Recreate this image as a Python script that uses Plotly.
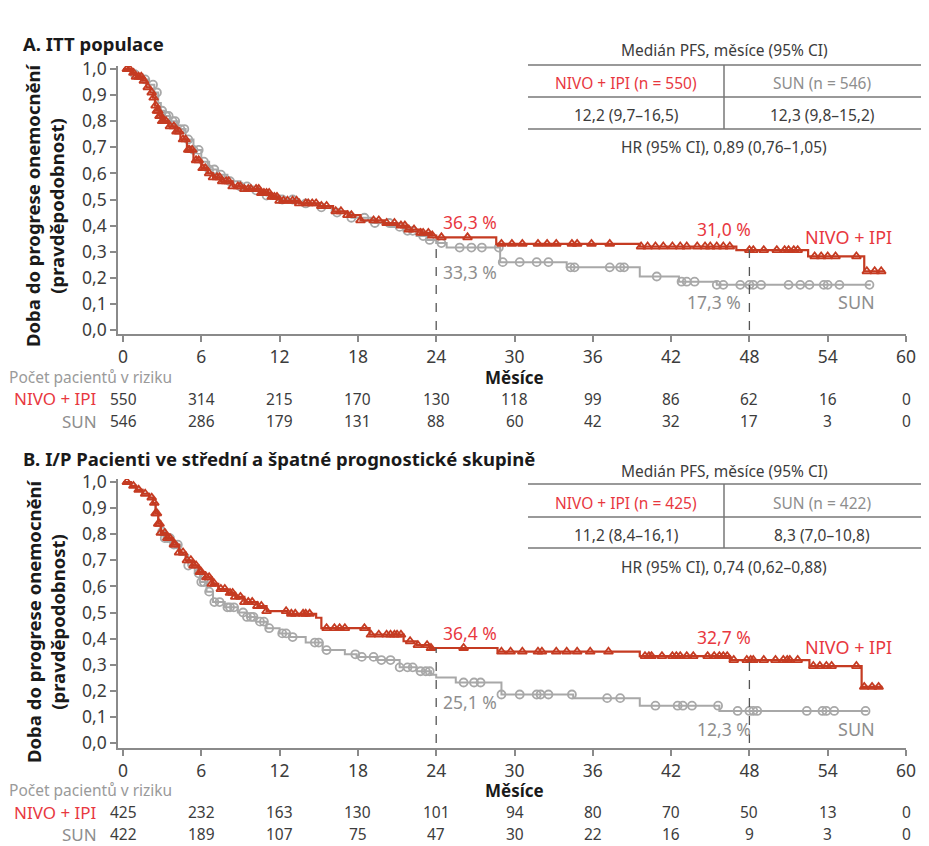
import numpy as np
import plotly.graph_objects as go

W, H = 929, 846
FONT = "Noto Sans"
RED_LINE = "#c53b22"
RED_TEXT = "#e8383f"
GRAY_LINE = "#a8a8a8"
GRAY_TEXT = "#8e8e8e"
DARK = "#3c3c3c"
AXIS = "#8a8a8a"

# ---------------- data ----------------
x_ticks = [0, 6, 12, 18, 24, 30, 36, 42, 48, 54, 60]
y_ticks = [0.0, 0.1, 0.2, 0.3, 0.4, 0.5, 0.6, 0.7, 0.8, 0.9, 1.0]
y_tick_labels = ["0,0", "0,1", "0,2", "0,3", "0,4", "0,5", "0,6", "0,7", "0,8", "0,9", "1,0"]

# Panel A: ITT
nivo_a_t = [0, 0.6, 1.0, 1.5, 1.8, 2.1, 2.3, 2.45, 2.6, 2.8, 3.0, 3.5, 4.0, 4.4, 4.9, 5.4, 6.0, 6.5, 6.9,
            7.5, 8.4, 9.3, 10.5, 11.3, 12.0, 13.5, 15.0, 16.1, 17.2, 18.2, 20.0, 21.0, 21.7, 22.8, 23.5,
            24.0, 28.6, 39.6, 47.0, 52.5, 56.8, 58.4]
nivo_a_s = [1.0, 0.985, 0.97, 0.955, 0.93, 0.91, 0.89, 0.86, 0.84, 0.82, 0.80, 0.78, 0.76, 0.73, 0.69, 0.65,
            0.62, 0.60, 0.585, 0.57, 0.55, 0.54, 0.525, 0.51, 0.495, 0.485, 0.475, 0.455, 0.44, 0.42, 0.41,
            0.40, 0.385, 0.372, 0.362, 0.355, 0.33, 0.32, 0.306, 0.282, 0.225, 0.225]
nivo_a_cens = [0.3, 0.5, 0.8, 1.0, 1.2, 1.4, 1.6, 1.9, 2.2, 2.35, 2.5, 2.6, 2.7, 2.8, 2.9, 3.0, 3.1, 3.3,
               3.6, 3.9, 4.1, 4.3, 4.6, 4.8, 5.0, 5.1, 5.3, 5.6, 5.8, 6.1, 6.3, 6.6, 6.9, 7.2, 7.4, 7.6,
               7.9, 8.1, 8.4, 8.8, 9.0, 9.3, 9.6, 9.8, 10.2, 10.4, 10.6, 10.8, 11.0, 11.2, 11.4, 11.6,
               11.8, 12.0, 12.3, 12.6, 13.0, 13.3, 13.5, 14.0, 14.2, 14.5, 14.8, 15.2, 15.6, 16.3, 16.7,
               17.2, 17.5, 18.2, 19.2, 19.6, 20.2, 20.8, 21.3, 21.6, 21.9, 22.3, 22.8, 23.0, 23.4, 23.7,
               24.4, 26.4, 29.0, 29.8, 30.6, 31.8, 32.5, 33.2, 34.4, 34.8, 35.9, 37.3, 39.7, 40.2, 40.8,
               41.4, 42.1, 42.7, 43.2, 44.0, 44.6, 45.0, 45.5, 46.0, 46.5, 48.0, 48.3, 49.1, 50.1, 50.7,
               51.0, 51.4, 51.7, 53.0, 53.5, 54.0, 54.6, 56.2, 57.0, 57.6, 58.1]
sun_a_t = [0, 0.8, 1.5, 2.0, 2.4, 2.7, 2.9, 3.2, 3.6, 4.2, 4.8, 5.4, 6.0, 6.6, 7.2, 8.0, 9.0, 10.0, 11.0,
           12.0, 13.5, 15.0, 16.0, 17.5, 19.0, 20.5, 21.5, 22.5, 23.3, 24.0, 24.8, 28.9, 34.0, 39.6, 42.6,
           45.5, 57.3]
sun_a_s = [1.0, 0.98, 0.96, 0.94, 0.91, 0.87, 0.84, 0.82, 0.80, 0.77, 0.73, 0.69, 0.645, 0.615, 0.595, 0.57,
           0.55, 0.535, 0.515, 0.50, 0.485, 0.47, 0.45, 0.43, 0.41, 0.395, 0.38, 0.36, 0.345, 0.333, 0.316,
           0.26, 0.24, 0.205, 0.185, 0.173, 0.173]
sun_a_cens = [0.9, 1.7, 2.3, 2.6, 3.0, 3.3, 3.5, 3.8, 4.0, 4.4, 4.7, 5.0, 5.4, 5.8, 6.2, 6.6, 7.0, 7.5, 8.2,
              9.0, 9.5, 10.2, 11.0, 12.2, 13.0, 14.0, 15.2, 16.4, 17.5, 18.5, 19.3, 20.4, 21.2, 21.8, 22.2,
              23.0, 23.5, 24.4, 25.8, 26.7, 27.5, 28.8, 29.1, 30.4, 31.7, 32.6, 34.3, 34.6, 37.3, 38.1,
              38.4, 40.9, 42.8, 43.2, 43.8, 45.5, 46.0, 47.3, 48.0, 48.3, 48.9, 51.0, 51.9, 52.6, 53.7,
              54.0, 54.9, 57.2]

# Panel B: I/P
nivo_b_t = [0, 0.6, 1.0, 1.5, 2.0, 2.3, 2.5, 2.7, 2.9, 3.3, 3.8, 4.3, 4.8, 5.3, 5.8, 6.3, 6.8, 7.3, 8.0,
            8.6, 9.3, 10.3, 11.0, 12.6, 14.8, 15.2, 18.9, 21.5, 22.5, 23.5, 28.7, 39.6, 46.5, 52.6, 56.6, 58.2]
nivo_b_s = [1.0, 0.985, 0.97, 0.955, 0.94, 0.92, 0.88, 0.84, 0.805, 0.785, 0.76, 0.73, 0.70, 0.68, 0.655,
            0.635, 0.61, 0.59, 0.575, 0.56, 0.54, 0.525, 0.505, 0.495, 0.48, 0.44, 0.415, 0.39, 0.375, 0.364,
            0.35, 0.333, 0.318, 0.295, 0.215, 0.215]
nivo_b_cens = [0.3, 0.8, 1.2, 1.7, 2.2, 2.4, 2.5, 2.6, 2.7, 2.8, 2.9, 3.2, 3.4, 3.6, 3.9, 4.0, 4.3, 4.6,
               4.9, 5.2, 5.4, 5.6, 5.9, 6.0, 6.4, 6.6, 6.8, 7.0, 7.5, 7.8, 8.2, 8.4, 8.6, 9.0, 9.3, 9.6,
               9.9, 10.3, 10.6, 11.0, 12.5, 12.9, 13.2, 13.8, 14.0, 14.3, 15.6, 16.2, 16.6, 17.0, 18.5,
               19.0, 19.6, 20.2, 20.5, 20.8, 21.0, 21.3, 22.0, 22.6, 23.3, 23.6, 26.1, 29.0, 29.7, 30.6,
               31.8, 32.1, 33.2, 34.0, 34.8, 35.8, 37.2, 40.0, 40.3, 40.5, 41.3, 42.1, 42.4, 42.7, 43.2,
               43.7, 44.8, 45.3, 45.7, 46.0, 46.3, 46.8, 47.8, 48.1, 48.3, 49.1, 50.0, 50.6, 50.9, 51.1,
               51.7, 52.9, 53.4, 53.9, 54.3, 56.2, 56.8, 57.4, 57.9]
sun_b_t = [0, 0.6, 1.0, 1.5, 2.0, 2.3, 2.5, 2.7, 2.9, 3.2, 3.8, 4.4, 5.0, 5.5, 5.9, 6.4, 6.9, 7.8, 8.8, 9.5,
           10.2, 11.0, 12.0, 12.8, 14.0, 15.3, 17.0, 17.9, 19.4, 21.2, 22.5, 23.6, 24.0, 25.5, 29.0, 34.5,
           39.6, 45.7, 57.1]
sun_b_s = [1.0, 0.985, 0.97, 0.955, 0.94, 0.92, 0.89, 0.85, 0.81, 0.785, 0.76, 0.72, 0.68, 0.65, 0.617,
           0.58, 0.54, 0.52, 0.50, 0.483, 0.465, 0.44, 0.42, 0.406, 0.385, 0.356, 0.34, 0.33, 0.318, 0.29,
           0.275, 0.262, 0.251, 0.232, 0.186, 0.172, 0.143, 0.123, 0.123]
sun_b_cens = [3.0, 3.2, 3.4, 3.6, 3.9, 4.2, 5.0, 5.8, 6.0, 6.2, 6.6, 7.0, 7.4, 8.0, 8.2, 8.5, 9.2, 9.5, 9.8,
              10.0, 10.5, 10.8, 11.2, 12.2, 12.5, 13.0, 14.7, 15.0, 15.6, 17.8, 18.3, 19.2, 19.8, 20.5,
              21.2, 21.8, 22.2, 22.8, 23.2, 23.5, 26.1, 26.9, 27.4, 29.0, 30.4, 31.7, 32.0, 32.6, 34.4,
              37.1, 38.1, 40.8, 42.5, 42.9, 43.6, 45.6, 47.1, 48.0, 48.3, 48.6, 52.4, 53.6, 53.9, 54.5,
              56.9]

# Risk tables
risk_nivo_a = [550, 314, 215, 170, 130, 118, 99, 86, 62, 16, 0]
risk_sun_a = [546, 286, 179, 131, 88, 60, 42, 32, 17, 3, 0]
risk_nivo_b = [425, 232, 163, 130, 101, 94, 80, 70, 50, 13, 0]
risk_sun_b = [422, 189, 107, 75, 47, 30, 22, 16, 9, 3, 0]

# Landmarks
landmark_t = [24, 48]
pct_nivo_a = ["36,3 %", "31,0 %"]
pct_sun_a = ["33,3 %", "17,3 %"]
pct_nivo_b = ["36,4 %", "32,7 %"]
pct_sun_b = ["25,1 %", "12,3 %"]

# Median tables
median_a = ["NIVO + IPI (n = 550)", "SUN (n = 546)", "12,2 (9,7–16,5)", "12,3 (9,8–15,2)", "HR (95% CI), 0,89 (0,76–1,05)"]
median_b = ["NIVO + IPI (n = 425)", "SUN (n = 422)", "11,2 (8,4–16,1)", "8,3 (7,0–10,8)", "HR (95% CI), 0,74 (0,62–0,88)"]


def step_at(t_arr, s_arr, t):
    idx = np.searchsorted(np.asarray(t_arr), t, side="right") - 1
    idx = np.clip(idx, 0, len(s_arr) - 1)
    return np.asarray(s_arr)[idx]


def px(x):
    return x / W


def py(y):
    return 1 - y / H


fig = go.Figure()

panels = [
    dict(xa="x", ya="y", nt=nivo_a_t, ns=nivo_a_s, nc=nivo_a_cens, st=sun_a_t, ss=sun_a_s, sc=sun_a_cens),
    dict(xa="x2", ya="y2", nt=nivo_b_t, ns=nivo_b_s, nc=nivo_b_cens, st=sun_b_t, ss=sun_b_s, sc=sun_b_cens),
]
for p in panels:
    fig.add_trace(go.Scatter(x=p["st"], y=p["ss"], mode="lines", line=dict(color=GRAY_LINE, width=2, shape="hv"),
                             xaxis=p["xa"], yaxis=p["ya"], showlegend=False, hoverinfo="skip"))
    fig.add_trace(go.Scatter(x=p["sc"], y=step_at(p["st"], p["ss"], p["sc"]), mode="markers",
                             marker=dict(symbol="circle-open", size=8, color=GRAY_LINE, line=dict(width=1.8)),
                             xaxis=p["xa"], yaxis=p["ya"], showlegend=False, hoverinfo="skip"))
    fig.add_trace(go.Scatter(x=p["nt"], y=p["ns"], mode="lines", line=dict(color=RED_LINE, width=2.2, shape="hv"),
                             xaxis=p["xa"], yaxis=p["ya"], showlegend=False, hoverinfo="skip"))
    fig.add_trace(go.Scatter(x=p["nc"], y=step_at(p["nt"], p["ns"], p["nc"]), mode="markers",
                             marker=dict(symbol="triangle-up-open", size=8, color=RED_LINE, line=dict(width=1.8)),
                             xaxis=p["xa"], yaxis=p["ya"], showlegend=False, hoverinfo="skip"))

# dashed landmark lines
dash_tops = [
    ("x", "y", step_at(sun_a_t, sun_a_s, 24), step_at(nivo_a_t, nivo_a_s, 48)),
    ("x2", "y2", step_at(nivo_b_t, nivo_b_s, 24), step_at(nivo_b_t, nivo_b_s, 48)),
]
shapes = []
for xa, ya, top24, top48 in dash_tops:
    for t, top in zip(landmark_t, [top24, top48]):
        shapes.append(dict(type="line", xref=xa, yref=ya, x0=t, x1=t, y0=0, y1=float(top),
                           line=dict(color="#555555", width=1.3, dash="dash")))

axis_common = dict(showline=True, linecolor=AXIS, linewidth=1.5, ticks="outside", ticklen=6, tickwidth=1.5,
                   tickcolor=AXIS, showgrid=False, zeroline=False, automargin=False,
                   tickfont=dict(family=FONT, size=17.5, color=DARK))
xdom = [px(118), px(906)]
fig.update_layout(
    width=W, height=H, autosize=False, margin=dict(l=0, r=0, t=0, b=0),
    paper_bgcolor="white", plot_bgcolor="white",
    xaxis=dict(domain=xdom, range=[-0.383, 60], anchor="y", tickvals=x_ticks, **axis_common),
    yaxis=dict(domain=[py(334), py(66)], range=[-0.0153, 1.0115], anchor="x", tickvals=y_ticks,
               ticktext=y_tick_labels, **axis_common),
    xaxis2=dict(domain=xdom, range=[-0.383, 60], anchor="y2", tickvals=x_ticks, **axis_common),
    yaxis2=dict(domain=[py(748), py(479)], range=[-0.019, 1.0115], anchor="x2", tickvals=y_ticks,
                ticktext=y_tick_labels, **axis_common),
)

ann = []


def text(x, y, s, size=16, color=DARK, xanchor="center", bold=False, xref="paper", yref="paper", angle=0):
    ann.append(dict(x=x, y=y, xref=xref, yref=yref, text=("<b>%s</b>" % s) if bold else s, showarrow=False,
                    xanchor=xanchor, yanchor="middle", textangle=angle,
                    font=dict(family=FONT, size=size, color=color)))


# titles
text(px(21), py(44), "A. ITT populace", size=18.5, color="#1a1a1a", xanchor="left", bold=True)
text(px(21), py(458), "B. I/P Pacienti ve střední a špatné prognostické skupině", size=18.5, color="#1a1a1a",
     xanchor="left", bold=True)

# y titles
for yc in [205, 621]:
    text(px(45), py(yc), "Doba do progrese onemocnění<br>(pravděpodobnost)", size=18.5, color="#1a1a1a",
         bold=True, angle=-90)

# median tables
for tab, (yh, yl1, yr1, yl2, yr2, yl3, yhr) in [
        (median_a, (50, 65, 83, 97, 115, 129, 147)),
        (median_b, (471, 484, 503, 517, 535, 548, 567))]:
    text(px(724), py(yh), "Medián PFS, měsíce (95% CI)", size=15.5, color=DARK)
    text(px(626), py(yr1), tab[0], size=15.5, color=RED_TEXT)
    text(px(822), py(yr1), tab[1], size=15.5, color=GRAY_TEXT)
    text(px(626), py(yr2), tab[2], size=15.5, color=DARK)
    text(px(822), py(yr2), tab[3], size=15.5, color=DARK)
    text(px(724), py(yhr), tab[4], size=15.5, color=DARK)
    for yy in (yl1, yl2, yl3):
        shapes.append(dict(type="line", xref="paper", yref="paper", x0=px(528), x1=px(921), y0=py(yy), y1=py(yy),
                           line=dict(color="#777777", width=1.5)))
    shapes.append(dict(type="line", xref="paper", yref="paper", x0=px(724), x1=px(724), y0=py(yl1), y1=py(yl3),
                       line=dict(color="#777777", width=1.5)))

# curve labels
for xa, ya, pn, ps, pos in [
        ("x", "y", pct_nivo_a, pct_sun_a, dict(n24=0.414, s24=0.222, n48=0.387, s48=0.107, nl=0.356, sl=0.107)),
        ("x2", "y2", pct_nivo_b, pct_sun_b, dict(n24=0.421, s24=0.157, n48=0.406, s48=0.054, nl=0.368, sl=0.054))]:
    text(24.35, pos["n24"], pn[0], size=17.5, color=RED_TEXT, xanchor="left", xref=xa, yref=ya)
    text(24.35, pos["s24"], ps[0], size=17.5, color=GRAY_TEXT, xanchor="left", xref=xa, yref=ya)
    text(48.3, pos["n48"], pn[1], size=17.5, color=RED_TEXT, xanchor="right", xref=xa, yref=ya)
    text(48.3 if xa == "x2" else 47.5, pos["s48"], ps[1], size=17.5, color=GRAY_TEXT, xanchor="right",
         xref=xa, yref=ya)
    text(55.6, pos["nl"], "NIVO + IPI", size=18, color=RED_TEXT, xref=xa, yref=ya)
    text(56.2, pos["sl"], "SUN", size=18, color=GRAY_TEXT, xref=xa, yref=ya)

# risk tables
for xa, rn, rs, (yp, yn, ysn) in [("x", risk_nivo_a, risk_sun_a, (377, 399, 421)),
                                  ("x2", risk_nivo_b, risk_sun_b, (790, 812, 834))]:
    text(px(7), py(yp), "Počet pacientů v riziku", size=15.5, color="#9a9a9a", xanchor="left")
    text(30, py(yp), "Měsíce", size=17, color="#1a1a1a", bold=True, xref=xa)
    text(px(99), py(yn), "NIVO + IPI", size=17, color=RED_TEXT, xanchor="right")
    text(px(99), py(ysn), "SUN", size=17, color=GRAY_TEXT, xanchor="right")
    for t, a, b in zip(x_ticks, rn, rs):
        text(t, py(yn), str(a), size=15.5, color=DARK, xref=xa)
        text(t, py(ysn), str(b), size=15.5, color=DARK, xref=xa)

fig.update_layout(annotations=ann, shapes=shapes)
# remove the browser's default 8px body margin so the 929x846 figure fills the window exactly
fig.write_html("out.html", config={"displayModeBar": False},
               post_script="document.body.style.margin='0';document.documentElement.style.margin='0';")
